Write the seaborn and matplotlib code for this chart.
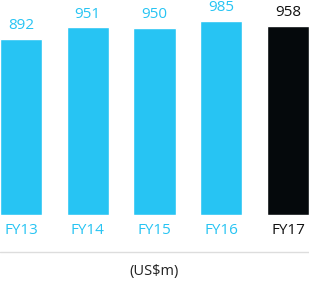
import matplotlib.pyplot as plt
import numpy as np
import pandas as pd
import seaborn as sns
from matplotlib.lines import Line2D

years = ["FY13", "FY14", "FY15", "FY16", "FY17"]
revenue = [892, 951, 950, 985, 958]
colors = ["#27c4f3", "#27c4f3", "#27c4f3", "#27c4f3", "#05090c"]
label_colors = ["#27c4f3", "#27c4f3", "#27c4f3", "#27c4f3", "#111111"]

sns.set_style("white")
plt.rcParams["font.family"] = ["Open Sans", "DejaVu Sans"]

df = pd.DataFrame({"year": years, "revenue": revenue})

fig = plt.figure(figsize=(3.09, 2.82), dpi=100)
ax = fig.add_axes([0, (282 - 215) / 282, 1, 215 / 282])
sns.barplot(data=df, x="year", y="revenue", hue="year", palette=colors,
            legend=False, width=0.63, saturation=1, ax=ax)

ax.set_xlim(-0.315, 4.315)
ax.set_ylim(0, 1090)
ax.set_xlabel("")
ax.set_ylabel("")
ax.set_yticks([])
sns.despine(ax=ax, left=True, bottom=True)

for i, v in enumerate(revenue):
    ax.text(i, v + 30, str(v), ha="center", va="bottom", fontsize=11,
            color=label_colors[i])

ax.tick_params(axis="x", length=0, pad=6, labelsize=11)
for lbl, c in zip(ax.get_xticklabels(), label_colors):
    lbl.set_color(c)

fig.add_artist(Line2D([0, 1], [1 - 252 / 282] * 2, color="#dddddd", lw=1))
fig.text(0.5, 1 - 272 / 282, "(US\\$m)", ha="center", va="center",
         fontsize=10.5, color="#222222")

fig.savefig("out.png", dpi=100)
